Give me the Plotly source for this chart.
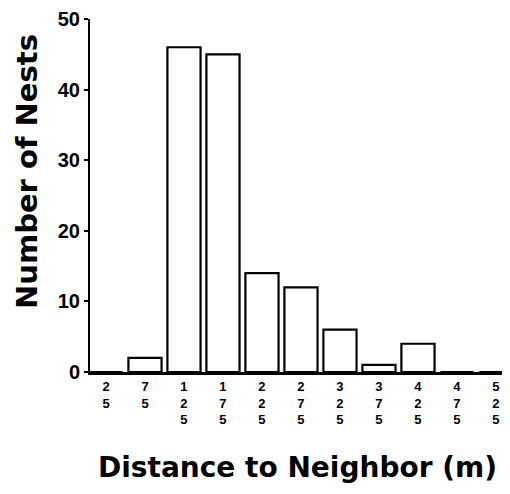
import plotly.graph_objects as go

categories = ["25", "75", "125", "175", "225", "275", "325", "375", "425", "475", "525"]
nests = [0, 2, 46, 45, 14, 12, 6, 1, 4, 0, 0]
tick_labels = ["<br>".join(list(c)) for c in categories]
y_ticks = [0, 10, 20, 30, 40, 50]

# page body has an 8px default margin; the figure is sized to fit the window
OFF = 8
W, H = 510 - OFF, 494 - OFF
L, R, T = 90 - OFF, 0, 19 - OFF
B = H - (372 - OFF)

fig = go.Figure(
    go.Bar(
        x=categories,
        y=nests,
        marker=dict(color="white", line=dict(color="black", width=2.2)),
    )
)

fig.update_layout(
    width=W,
    height=H,
    margin=dict(l=L, r=R, t=T, b=B, autoexpand=False),
    paper_bgcolor="white",
    plot_bgcolor="white",
    bargap=0.15,
    showlegend=False,
    xaxis=dict(
        type="category",
        range=[-0.41, 10.36],
        tickmode="array",
        tickvals=categories,
        ticktext=tick_labels,
        tickfont=dict(family="Liberation Sans", size=13, color="black", weight="bold"),
        showline=True,
        linecolor="black",
        linewidth=3,
        ticks="",
        showgrid=False,
        zeroline=False,
        automargin=False,
        ticklabeloverflow="allow",
    ),
    yaxis=dict(
        range=[0, 50],
        tickmode="array",
        tickvals=y_ticks,
        tickfont=dict(family="Liberation Sans", size=20, color="black", weight="bold"),
        showline=True,
        linecolor="black",
        linewidth=2,
        ticks="outside",
        ticklen=4,
        tickwidth=2,
        tickcolor="black",
        showgrid=False,
        zeroline=False,
        automargin=False,
        ticklabeloverflow="allow",
    ),
    annotations=[
        dict(
            text="Distance to Neighbor (m)",
            xref="paper", yref="paper",
            x=(297 - OFF - L) / (W - L - R), y=-(467 - OFF - (H - B)) / (H - T - B),
            xanchor="center", yanchor="middle",
            showarrow=False,
            font=dict(family="DejaVu Sans", size=28, color="black", weight="bold"),
        ),
        dict(
            text="Number of Nests",
            xref="paper", yref="paper",
            x=-(L - (27 - OFF)) / (W - L - R), y=((H - B) - (172 - OFF)) / (H - T - B),
            xanchor="center", yanchor="middle",
            textangle=-90,
            showarrow=False,
            font=dict(family="DejaVu Sans", size=29, color="black", weight="bold"),
        ),
    ],
)

fig.write_html("out.html")
